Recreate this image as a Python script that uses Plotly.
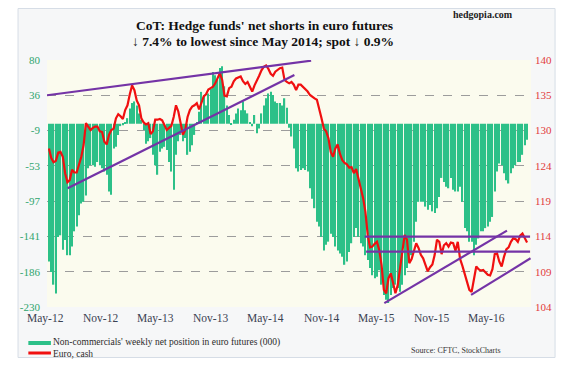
import plotly.graph_objects as go

# ---------------- data ----------------
net_positions = [
    -173, -186, -202, -213, -142, -140, -158, -146, -165, -165,
    -154, -135, -129, -115, -100, -98, -90, -56, -52, -52,
    -54, -48, -52, -56, -60, -64, -85, -89, -31, -29,
    -14, -3, -2, 1, 7, 19, 26, 28, 23, 13,
    5, -8, -25, -22, -18, -39, -52, -64, -35, -31,
    -29, -33, -48, -60, -83, -39, -22, -14, -22, -18,
    -39, -35, -27, -14, 2, 15, 40, 36, 23, 38,
    44, 65, 61, 55, 70, 72, 47, 23, 11, -1,
    5, 13, 19, 17, 28, 17, 13, 1, -3, 11,
    -12, -6, 13, 23, 32, 38, 40, 36, 28, 26,
    26, 23, 32, 20, -5, -16, -31, -56, -60, -58,
    -56, -58, -60, -81, -94, -106, -123, -129, -142, -159,
    -152, -148, -138, -142, -154, -159, -163, -167, -177, -173,
    -161, -150, -142, -131, -142, -150, -154, -165, -171, -181,
    -190, -194, -192, -184, -202, -215, -221, -225, -215, -206,
    -202, -206, -211, -202, -190, -181, -171, -165, -148, -123,
    -98, -98, -98, -104, -108, -102, -110, -112, -106, -92,
    -68, -73, -79, -81, -68, -83, -85, -85, -79, -98,
    -131, -135, -148, -148, -165, -152, -144, -135, -135, -131,
    -129, -123, -117, -85, -60, -50, -52, -62, -71, -75,
    -62, -56, -52, -48, -48, -39, -27, -20,
]

euro_cash = [
    127.1, 125.7, 125.1, 125.3, 126.5, 126.6, 125.9, 123.5, 122.2, 122.5,
    124.0, 123.6, 123.6, 124.8, 125.9, 127.6, 130.8, 130.3, 129.8, 130.1,
    130.3, 130.3, 129.6, 129.5, 128.1, 127.7, 129.1, 129.8, 130.0, 131.5,
    132.1, 131.8, 131.4, 132.7, 133.4, 135.0, 136.3, 135.6, 134.1, 133.4,
    131.5, 130.9, 130.6, 130.8, 129.2, 129.6, 131.3, 131.3, 131.4, 131.2,
    130.5, 129.8, 130.1, 130.4, 131.7, 133.4, 132.5, 131.0, 129.1, 129.8,
    131.7, 132.7, 133.2, 133.4, 133.7, 132.8, 133.9, 134.7, 135.0, 135.7,
    135.9, 136.1, 136.6, 137.4, 138.1, 137.1, 134.8, 134.7, 135.9, 136.1,
    136.9, 137.3, 137.4, 137.6, 136.9, 136.5, 136.8, 136.0, 135.4, 136.3,
    136.9, 137.7, 138.5, 139.0, 139.2, 138.7, 138.0, 137.7, 138.3, 138.6,
    138.8, 138.9, 137.1, 136.8, 136.6, 136.8, 136.4, 135.6, 136.4, 136.4,
    136.1, 135.7, 135.4, 134.9, 134.6, 134.4, 134.2, 133.0, 131.5, 130.0,
    129.6, 128.6, 126.6, 125.9, 127.1, 127.7, 126.3, 125.4, 125.0, 124.8,
    124.3, 124.4, 123.5, 124.1, 122.7, 121.6, 119.9, 117.9, 114.5, 112.7,
    112.8, 113.2, 113.5, 112.3, 110.1, 106.5, 106.0, 108.2, 108.9, 107.5,
    106.0, 107.2, 109.5, 111.8, 114.5, 113.8, 110.4, 111.0, 112.1, 113.3,
    112.6, 111.6, 111.1, 110.1, 109.2, 109.8, 110.2, 111.6, 113.8, 113.5,
    111.7, 113.0, 113.3, 112.8, 113.4, 113.3, 112.2, 113.5, 111.0, 110.0,
    108.9, 107.6, 106.5, 106.2, 108.4, 109.9, 109.5, 109.3, 109.4, 109.1,
    108.7, 108.6, 109.5, 111.7, 111.8, 110.6, 109.9, 111.3, 112.4, 112.7,
    113.5, 114.0, 113.9, 113.5, 114.4, 114.7, 114.1, 113.4,
]

weeks = list(range(len(net_positions)))

# trend lines drawn on the euro chart: (week0, euro0, week1, euro1)
trend_lines = [
    (-0.85, 134.86, 113.5, 139.9),
    (8.07, 121.3, 106.25, 137.8),
    (136.7, 114.26, 208.3, 114.26),
    (137.3, 112.07, 208.3, 112.07),
    (145.2, 104.56, 198.3, 115.13),
    (182.75, 105.76, 208.5, 111.1),
]

x_tick_labels = ["May-12", "Nov-12", "May-13", "Nov-13", "May-14",
                 "Nov-14", "May-15", "Nov-15", "May-16"]
left_tick_labels = ["-230", "-186", "-141", "-97", "-53", "-9", "36", "80"]
right_tick_labels = ["104", "109", "114", "119", "124", "130", "135", "140"]
left_range = [-230, 80]
right_range = [104, 140]

# ---------------- styling ----------------
# the page body adds an 8px margin, so the figure itself is 8px smaller on each
# leading edge; page coordinates below are converted with px()/py().
PAGE_OFF = 8
W, H = 556, 358
L, R, T, B = 30, 33, 52, 59
PW, PH = W - L - R, H - T - B
SERIF = "Liberation Serif, Times New Roman, serif"
GREEN = "#2cc088"
RED = "#f01010"
PURPLE = "#7433a6"


def px(xp):
    return (xp - PAGE_OFF - L) / PW


def py(yp):
    return (H - B - (yp - PAGE_OFF)) / PH


fig = go.Figure()

fig.add_trace(go.Bar(
    x=weeks, y=net_positions,
    marker=dict(color=GREEN, line=dict(width=0)),
    yaxis="y", name="Non-commercials' weekly net position in euro futures (000)",
))
fig.add_trace(go.Scatter(
    x=weeks, y=euro_cash, mode="lines", line=dict(color=RED, width=2.2),
    yaxis="y2", name="Euro, cash",
))
for (x0, y0, x1, y1) in trend_lines:
    fig.add_trace(go.Scatter(
        x=[x0, x1], y=[y0, y1], mode="lines",
        line=dict(color=PURPLE, width=2.2), yaxis="y2", hoverinfo="skip",
    ))

n = len(left_tick_labels) - 1
left_vals = [left_range[0] + k * (left_range[1] - left_range[0]) / n for k in range(n + 1)]
right_vals = [right_range[0] + k * (right_range[1] - right_range[0]) / n for k in range(n + 1)]

fig.update_layout(
    width=W, height=H,
    margin=dict(l=L, r=R, t=T, b=B),
    paper_bgcolor="white",
    plot_bgcolor="rgba(0,0,0,0)",
    showlegend=False,
    bargap=0.45,
    xaxis=dict(range=[-0.85, 208.7], showticklabels=False, showgrid=False,
               zeroline=False, showline=False, ticks=""),
    yaxis=dict(range=left_range, tickvals=left_vals, ticktext=left_tick_labels,
               tickfont=dict(family=SERIF, size=11, color="#2fa56e"),
               showgrid=True, gridcolor="#9c9c9c", griddash="dash", gridwidth=1,
               zeroline=False, showline=False, ticks="", ticklabelstandoff=6),
    yaxis2=dict(range=right_range, tickvals=right_vals, ticktext=right_tick_labels,
                overlaying="y", side="right",
                tickfont=dict(family=SERIF, size=11, color="#e23b3b"),
                showgrid=False, zeroline=False, showline=False, ticks="",
                ticklabelstandoff=3),
)

shapes = [
    # outer panel
    dict(type="rect", xref="paper", yref="paper", layer="below",
         x0=px(8.5), x1=px(555.5), y0=py(357.5), y1=py(8.5),
         fillcolor="#f6f7f8", line=dict(color="#d6dde6", width=1)),
    # plot area
    dict(type="rect", xref="paper", yref="paper", layer="below",
         x0=0, x1=1, y0=0, y1=1, fillcolor="#fbfbee", line=dict(width=0)),
    # legend swatches
    dict(type="line", xref="paper", yref="paper", x0=px(19), x1=px(42),
         y0=py(343), y1=py(343), line=dict(color=GREEN, width=4)),
    dict(type="line", xref="paper", yref="paper", x0=px(19), x1=px(42),
         y0=py(353), y1=py(353), line=dict(color=RED, width=3)),
]
fig.update_layout(shapes=shapes)

ann = [
    dict(text="<b>CoT: Hedge funds' net shorts in euro futures</b>",
         xref="paper", yref="paper", x=px(260), y=py(25),
         xanchor="center", yanchor="middle", showarrow=False,
         font=dict(family=SERIF, size=13.5, color="#111111")),
    dict(text="<b>\u2193 7.4% to lowest since May 2014; spot \u2193 0.9%</b>",
         xref="paper", yref="paper", x=px(258), y=py(42),
         xanchor="center", yanchor="middle", showarrow=False,
         font=dict(family=SERIF, size=13.5, color="#111111")),
    dict(text="<b>hedgopia.com</b>", xref="paper", yref="paper",
         x=px(482), y=py(15), xanchor="center", yanchor="middle", showarrow=False,
         font=dict(family=SERIF, size=10, color="#222222")),
    dict(text="Non-commercials' weekly net position in euro futures (000)<br>Euro, cash",
         xref="paper", yref="paper", x=px(42), y=py(348), xanchor="left",
         yanchor="middle", showarrow=False, align="left",
         font=dict(family=SERIF, size=9.5, color="#2b2b2b")),
    dict(text="Source: CFTC, StockCharts", xref="paper", yref="paper",
         x=px(502), y=py(350), xanchor="right", yanchor="middle", showarrow=False,
         font=dict(family=SERIF, size=8, color="#333333")),
]
# x-axis category labels, evenly spaced as in the source chart
for k, lab in enumerate(x_tick_labels):
    ann.append(dict(text=lab, xref="paper", yref="paper",
                    x=px(36 + k * 56.25), y=py(318), xanchor="center",
                    yanchor="middle", showarrow=False,
                    font=dict(family=SERIF, size=11.5, color="#3b4252")))
fig.update_layout(annotations=ann)

fig.write_html("out.html")
